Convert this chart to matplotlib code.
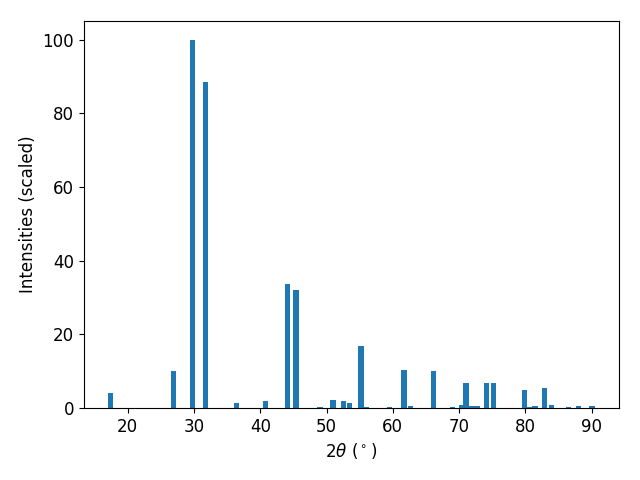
import matplotlib
matplotlib.use("Agg")
import matplotlib.pyplot as plt

two_theta = [17.44, 26.86, 29.73, 31.69, 36.36, 40.8, 44.06, 45.41, 49.03, 51.0,
             52.6, 53.5, 55.2, 55.97, 59.5, 61.7, 62.7, 66.2, 69.0, 70.45,
             71.05, 71.96, 72.7, 74.2, 75.2, 79.9, 80.7, 81.45, 82.9, 84.0,
             86.5, 88.0, 90.06]
intensities = [4.2, 10.1, 100.0, 88.6, 1.4, 1.8, 33.7, 32.1, 0.4, 2.2,
               1.8, 1.4, 16.8, 0.3, 0.3, 10.3, 0.5, 10.1, 0.3, 0.8,
               6.8, 0.5, 0.6, 6.8, 6.8, 5.0, 0.2, 0.5, 5.3, 0.9,
               0.3, 0.5, 0.5]

fig, ax = plt.subplots(figsize=(6.4, 4.8), dpi=100)
ax.bar(two_theta, intensities, width=0.8, color="#1f77b4")
ax.set_xlabel(r"$2\theta$ ($^\circ$)", fontsize=12)
ax.set_ylabel("Intensities (scaled)", fontsize=12)
ax.tick_params(labelsize=12)
fig.subplots_adjust(left=0.131, right=0.967, top=0.956, bottom=0.15)
fig.savefig("out.png")
